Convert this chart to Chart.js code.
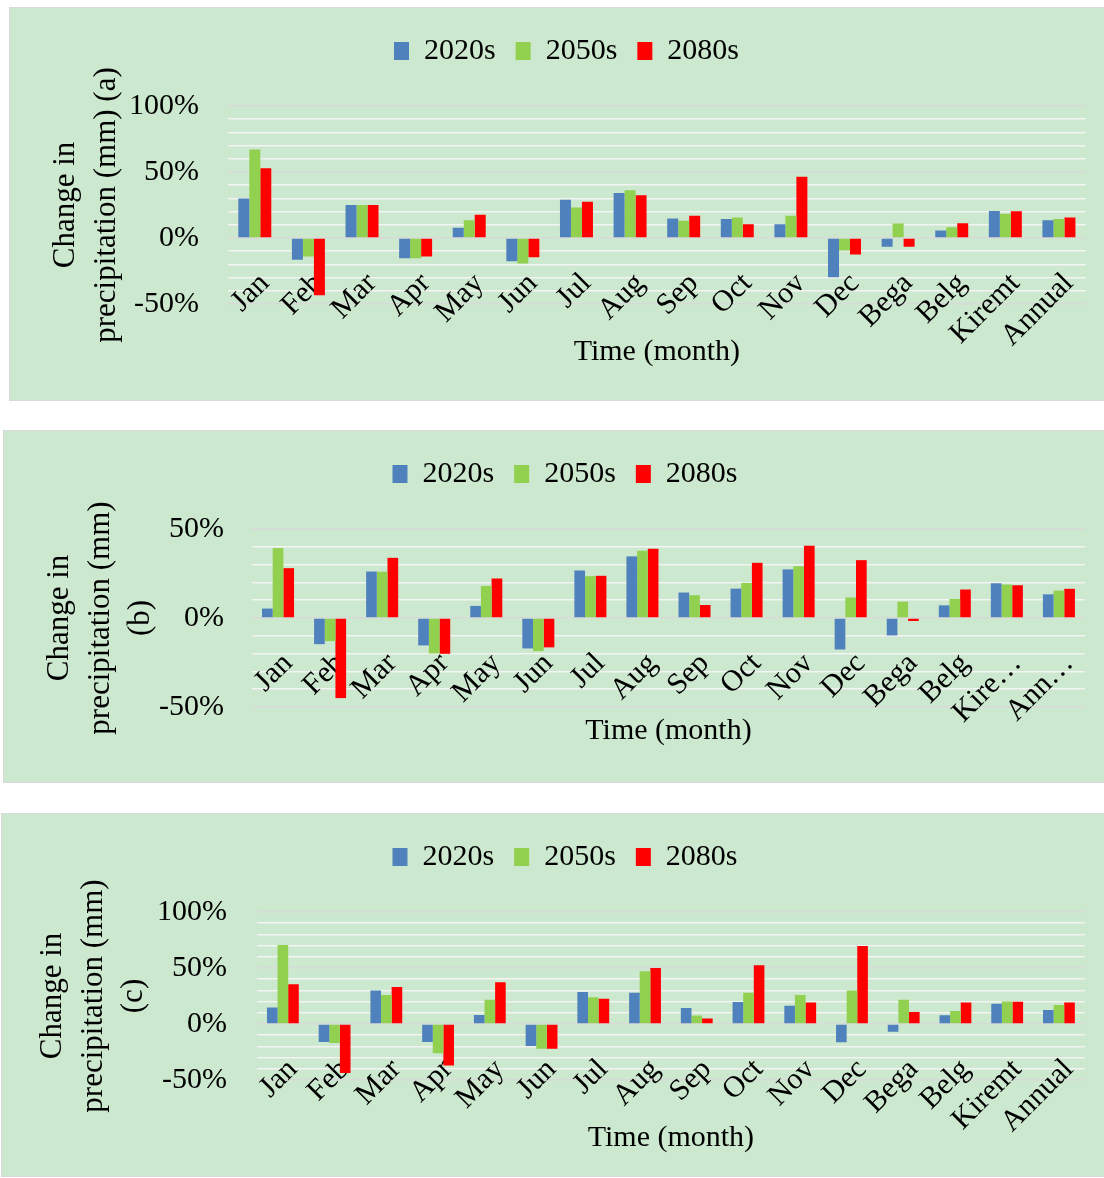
<!DOCTYPE html>
<html>
<head>
<meta charset="utf-8">
<script src="https://cdn.jsdelivr.net/npm/chart.js@4/dist/chart.umd.min.js"></script>
<style>
  html, body { margin: 0; padding: 0; background: #ffffff; }
  body { width: 1104px; height: 1178px; position: relative; overflow: hidden; }
  .panel { position: absolute; background: #CCE8CF; border: 1px solid #D9D9D9; box-sizing: border-box; }
  .panel canvas { position: absolute; left: 0; top: 0; }
</style>
</head>
<body>
<div class="panel" id="pa" style="left:9px; top:7px; width:1097px; height:394px;"><canvas id="ca" width="1095" height="392"></canvas></div>
<div class="panel" id="pb" style="left:3px; top:430px; width:1103px; height:353px;"><canvas id="cb" width="1101" height="351"></canvas></div>
<div class="panel" id="pc" style="left:1px; top:813px; width:1105px; height:364px;"><canvas id="cc" width="1103" height="362"></canvas></div>
<script>
// ---------- DATA ----------
const seriesNames = ['2020s', '2050s', '2080s'];
const categoriesA = ['Jan','Feb','Mar','Apr','May','Jun','Jul','Aug','Sep','Oct','Nov','Dec','Bega','Belg','Kiremt','Annual'];
const categoriesB = ['Jan','Feb','Mar','Apr','May','Jun','Jul','Aug','Sep','Oct','Nov','Dec','Bega','Belg','Kire\u2026','Ann\u2026'];
const categoriesC = ['Jan','Feb','Mar','Apr','May','Jun','Jul','Aug','Sep','Oct','Nov','Dec','Bega','Belg','Kiremt','Annual'];

const a2020 = [30, -16.5, 25, -15.3, 7.7, -17.6, 29, 34, 14.8, 14.3, 10.5, -29.8, -6.6, 5.6, 20.4, 13.5];
const a2050 = [67, -14, 25, -15.3, 13.5, -19.4, 23.2, 36.2, 13, 15.6, 16.8, -9.4, 11, 8.2, 18.4, 14.3];
const a2080 = [52.8, -43.4, 25, -14, 17.6, -14.5, 27.5, 32.4, 16.8, 10.5, 46.4, -12.5, -6.6, 11.2, 20.2, 15.6];

const b2020 = [5.3, -14.7, 26.1, -15.4, 6.8, -17.1, 26.7, 34.6, 14.3, 16.5, 27.3, -17.7, -9.8, 7.1, 19.5, 13.3];
const b2050 = [39.3, -13, 26, -19.9, 18, -18.6, 23.5, 37.8, 12.8, 19.7, 29.1, 11.5, 9.2, 10.7, 18.8, 15.4];
const b2080 = [28, -45, 33.8, -20.1, 22.2, -16.5, 23.7, 38.9, 7.3, 31, 40.6, 32.5, -1.7, 16, 18.4, 16.4];

const c2020 = [14.8, -16, 29.8, -16, 8.1, -19.6, 28.6, 28, 14.2, 19.6, 16.3, -16.3, -6.9, 7.8, 18, 12.6];
const c2050 = [70.5, -16.9, 25.9, -26.2, 21.7, -22, 23.8, 47, 7.5, 28, 25.9, 29.8, 21.7, 11.7, 20.2, 16.9];
const c2080 = [35.5, -43.7, 33.1, -37, 37.3, -22, 22.6, 50, 4.8, 52.4, 19.3, 69.6, 10.8, 19.3, 19.9, 19.3];

const yMinA = -50, yMaxA = 100;
const yMinB = -50, yMaxB = 50;
const yMinC = -50, yMaxC = 100;
const yStep = 10, yLabelStep = 50;

const yTitleA = ['Change in', 'precipitation (mm) (a)'];
const yTitleB = ['Change in', 'precipitation (mm)', '(b)'];
const yTitleC = ['Change in', 'precipitation (mm)', '(c)'];
const xTitle = 'Time (month)';

// ---------- STYLE ----------
const colors = ['#4F81BD', '#92D050', '#FF0000'];
const FONT = 'Liberation Serif, "Times New Roman", serif';
const FS = 30;

function makeChart(id, labels, s1, s2, s3, yMin, yMax, yTitle, L) {
  const legendSpacer = {
    id: 'legendSpacer',
    beforeInit(chart) {
      const orig = chart.legend.fit;
      chart.legend.fit = function () { orig.call(this); this.height += L.legendExtra; };
    }
  };
  return new Chart(document.getElementById(id), {
    type: 'bar',
    data: {
      labels: labels,
      datasets: [s1, s2, s3].map((d, i) => ({
        label: seriesNames[i],
        data: d,
        backgroundColor: colors[i],
        borderWidth: 0,
        categoryPercentage: 0.615,
        barPercentage: 1.0
      }))
    },
    options: {
      responsive: false,
      animation: false,
      devicePixelRatio: 1,
      layout: { padding: { top: 8, left: L.left, right: L.right, bottom: 0 } },
      plugins: {
        legend: {
          position: 'top',
          labels: {
            font: { family: FONT, size: FS },
            color: '#000',
            boxWidth: 15,
            boxHeight: 18,
            padding: 20
          }
        },
        title: {
          display: true,
          position: 'bottom',
          fullSize: false,
          text: xTitle,
          color: '#000',
          font: { family: FONT, size: FS, weight: 'normal', lineHeight: 1.2 },
          padding: { top: L.titleTop, bottom: L.titleBottom }
        },
        tooltip: { enabled: false }
      },
      scales: {
        x: {
          position: { y: 0 },
          grid: { display: false },
          border: { display: false },
          ticks: {
            autoSkip: false,
            maxRotation: 45,
            minRotation: 45,
            labelOffset: 10,
            padding: 20,
            color: '#000',
            font: { family: FONT, size: FS }
          }
        },
        y: {
          min: yMin,
          max: yMax,
          afterFit(scale) { scale.width = L.yWidth; },
          afterBuildTicks(scale) {
            const t = [];
            for (let v = yMin; v <= yMax + 1e-9; v += yStep) t.push({ value: v });
            scale.ticks = t;
          },
          border: { display: false },
          grid: {
            drawTicks: false,
            lineWidth: 1.5,
            color: (ctx) => (ctx.tick && ctx.tick.value % yLabelStep === 0) ? '#D9D9D9' : '#F4F4F4'
          },
          ticks: {
            autoSkip: false,
            padding: L.tickPad,
            color: '#000',
            font: { family: FONT, size: FS },
            callback: (v) => (v % yLabelStep === 0) ? v + '%' : ''
          },
          title: {
            display: true,
            text: yTitle,
            color: '#000',
            font: { family: FONT, size: 31, lineHeight: 1.3 },
            padding: { top: L.yTitlePad, bottom: 0 }
          }
        }
      }
    },
    plugins: [legendSpacer]
  });
}

makeChart('ca', categoriesA, a2020, a2050, a2080, yMinA, yMaxA, yTitleA,
  { left: 36, right: 18, legendExtra: 30, titleTop: 30, titleBottom: 30, yWidth: 182, tickPad: 29, yTitlePad: 0 });
makeChart('cb', categoriesB, b2020, b2050, b2080, yMinB, yMaxB, yTitleB,
  { left: 36, right: 15, legendExtra: 30, titleTop: 6, titleBottom: 33, yWidth: 212, tickPad: 28, yTitlePad: 0 });
makeChart('cc', categoriesC, c2020, c2050, c2080, yMinC, yMaxC, yTitleC,
  { left: 36, right: 13, legendExtra: 30, titleTop: 40, titleBottom: 20, yWidth: 219, tickPad: 30, yTitlePad: -5 });
</script>
</body>
</html>
